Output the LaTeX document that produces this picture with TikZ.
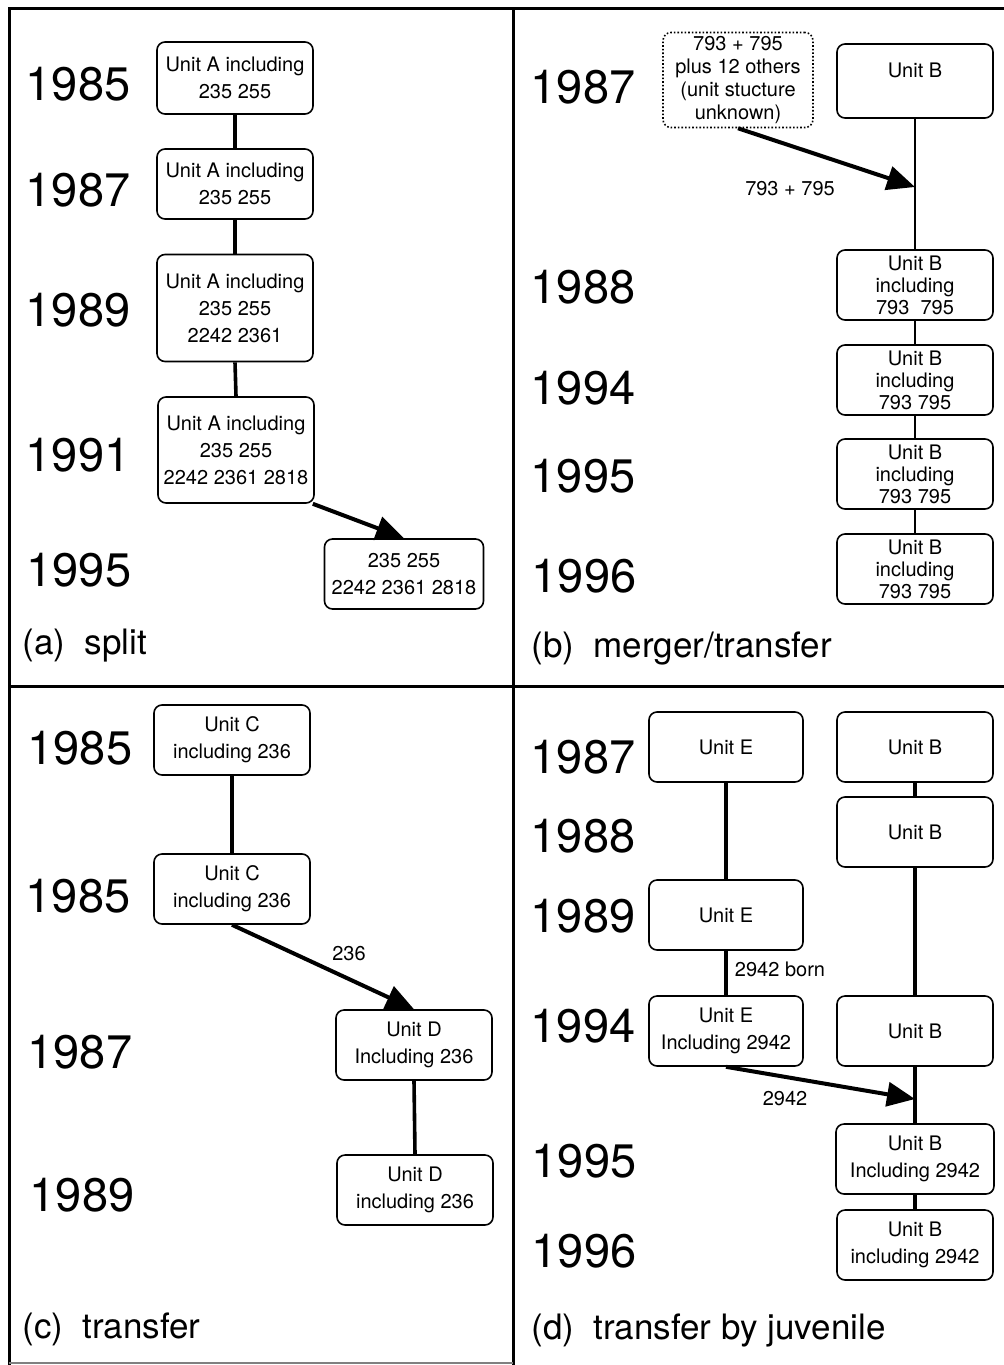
\documentclass[tikz,border=0pt]{standalone}
\usepackage{fontspec}
\setmainfont{TeX Gyre Heros}
\usetikzlibrary{arrows.meta}

\tikzset{
  unit/.style={draw, rounded corners=4pt, line width=0.8pt, align=center,
    minimum width=78pt, minimum height=35pt, inner sep=1pt,
    font=\fontsize{10}{13.5}\selectfont},
  tight/.style={font=\fontsize{10}{11}\selectfont},
  year/.style={font=\fontsize{23.5}{26}\selectfont},
  panel/.style={anchor=west, inner sep=0pt, font=\fontsize{17.5}{20}\selectfont},
  lbl/.style={font=\fontsize{10}{12}\selectfont},
  link/.style={line width=1.8pt},
  move/.style={line width=2pt, -{Triangle[length=14pt,width=12pt]}},
}

\begin{document}
\begin{tikzpicture}[x=0.5pt, y=-0.5pt]
        \useasboundingbox (0,0) rectangle (1004,1365);
        % frame
        \draw [line width=1.5pt] (9,1365) -- (9,8) -- (1004,8);
        \draw [line width=1.5pt] (513,8) -- (513,1365);
        \draw [line width=1.5pt] (9,686) -- (1004,686);
        \draw [gray, line width=1pt] (9,1363) -- (513,1363);

        % (a) split
        \node [year] (Ya1) at (78,84) {1985};
        \node [year] (Ya2) at (78,190) {1987};
        \node [year] (Ya3) at (78,310) {1989};
        \node [year] (Ya4) at (78,455) {1991};
        \node [year] (Ya5) at (79,570) {1995};
        \node [unit, minimum height=36pt] (A1) at (235,78) {Unit A including\\235 255};
        \node [unit] (A2) at (235,184) {Unit A including\\235 255};
        \node [unit, minimum height=53.5pt] (A3) at (235,308) {Unit A including\\235 255\\2242 2361};
        \node [unit, minimum height=53pt] (A4) at (236,450) {Unit A including\\235 255\\2242 2361 2818};
        \node [unit, minimum width=79.5pt] (S) at (404,574) {235 255\\2242 2361 2818};
        \draw [link] (A1.south) -- (A2.north);
        \draw [link] (A2.south) -- (A3.north);
        \draw [link] (A3.south) -- (A4.north);
        \draw [move] (A4.-35) -- (S.north);
        \node [panel] (Ca) at (22,646) {(a)~~split};

        % (b) merger/transfer
        \node [year] (Yb1) at (583,87) {1987};
        \node [year] (Yb2) at (583,287) {1988};
        \node [year] (Yb3) at (583,388) {1994};
        \node [year] (Yb4) at (583,476) {1995};
        \node [year] (Yb5) at (584,576) {1996};
        \node [unit, densely dotted, minimum width=75pt, minimum height=47.5pt,
          font=\fontsize{10}{11.5}\selectfont] (P) at (738,80)
          {793 + 795\\plus 12 others\\(unit stucture\\unknown)};
        \node [unit, tight, minimum height=37pt] (B1) at (915,81) {Unit B\\\mbox{}};
        \node [unit, tight] (B2) at (915,285) {Unit B\\including\\793~~795};
        \node [unit, tight] (B3) at (915,380) {Unit B\\including\\793 795};
        \node [unit, tight] (B4) at (915,474) {Unit B\\including\\793 795};
        \node [unit, tight] (B5) at (915,569) {Unit B\\including\\793 795};
        \coordinate (J1) at (915,187);
        \draw [link, line width=1.3pt] (B1.south) -- (B2.north);
        \draw [link, line width=1.3pt] (B2.south) -- (B3.north);
        \draw [link, line width=1.3pt] (B3.south) -- (B4.north);
        \draw [link, line width=1.3pt] (B4.south) -- (B5.north);
        \draw [move] (P.south) -- (J1);
        \node [lbl] (Lb) at (790,189) {793 + 795};
        \node [panel] (Cb) at (531,648) {(b)~~merger/transfer};

        % (c) transfer
        \node [year] (Yc1) at (80,748) {1985};
        \node [year] (Yc2) at (78,896) {1985};
        \node [year] (Yc3) at (80,1052) {1987};
        \node [year] (Yc4) at (82,1195) {1989};
        \node [unit] (C1) at (232,740) {Unit C\\including 236};
        \node [unit] (C2) at (232,889) {Unit C\\including 236};
        \node [unit] (D1) at (414,1045) {Unit D\\Including 236};
        \node [unit] (D2) at (415,1190) {Unit D\\including 236};
        \draw [link] (C1.south) -- (C2.north);
        \draw [move] (C2.south) -- (D1.north);
        \draw [link] (D1.south) -- (D2.north);
        \node [lbl] (Lc) at (349,954) {236};
        \node [panel] (Cc) at (22,1329) {(c)~~transfer};

        % (d) transfer by juvenile
        \node [year] (Yd1) at (583,757) {1987};
        \node [year] (Yd2) at (583,836) {1988};
        \node [year] (Yd3) at (583,916) {1989};
        \node [year] (Yd4) at (583,1026) {1994};
        \node [year] (Yd5) at (584,1161) {1995};
        \node [year] (Yd6) at (584,1251) {1996};
        \node [unit, minimum width=77pt] (E1) at (726,747) {Unit E};
        \node [unit, minimum width=77pt] (E2) at (726,915) {Unit E};
        \node [unit, minimum width=77pt] (E3) at (726,1031) {Unit E\\Including 2942};
        \node [unit] (G1) at (915,747) {Unit B};
        \node [unit] (G2) at (915,832) {Unit B};
        \node [unit] (G3) at (915,1031) {Unit B};
        \node [unit, minimum width=79pt] (G4) at (915,1159) {Unit B\\Including 2942};
        \node [unit] (G5) at (915,1245) {Unit B\\including 2942};
        \coordinate (J2) at (915,1099);
        \draw [link] (E1.south) -- (E2.north);
        \draw [link] (E2.south) -- (E3.north);
        \draw [link] (G1.south) -- (G2.north);
        \draw [link] (G2.south) -- (G3.north);
        \draw [link] (G3.south) -- (G4.north);
        \draw [link] (G4.south) -- (G5.north);
        \draw [move] (E3.south) -- (J2);
        \node [lbl] (Ld1) at (780,969) {2942 born};
        \node [lbl] (Ld2) at (785,1099) {2942};
        \node [panel] (Cd) at (531,1330) {(d)~~transfer by juvenile};
\end{tikzpicture}
\end{document}
